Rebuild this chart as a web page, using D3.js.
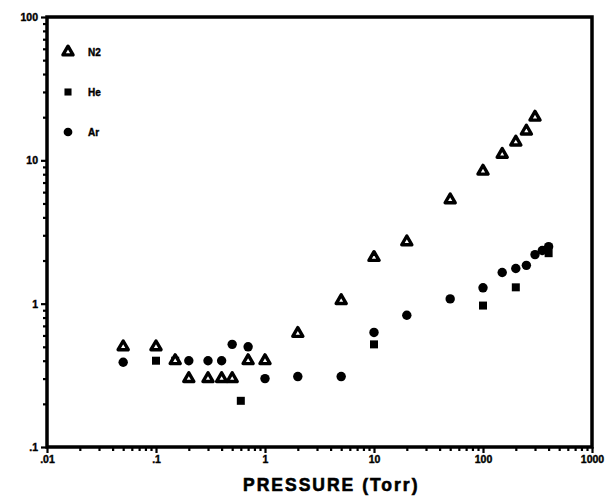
<!DOCTYPE html>
<html>
<head>
<meta charset="utf-8">
<script src="https://cdn.jsdelivr.net/npm/d3@7"></script>
<style>
  body { margin: 0; background: #fff; }
  svg { font-family: "Liberation Sans", Arial, sans-serif; font-weight: bold; }
</style>
</head>
<body>
<script>
// data (pressure in Torr)
var n2P = [0.05, 0.1, 0.15, 0.2, 0.3, 0.4, 0.5, 0.7, 1, 2, 5, 10, 20, 50, 100, 150, 200, 250, 300];
var n2V = [0.5, 0.5, 0.4, 0.3, 0.3, 0.3, 0.3, 0.4, 0.4, 0.62, 1.05, 2.1, 2.7, 5.3, 8.4, 11, 13.4, 16, 20];

var heP = [0.1, 0.15, 0.6, 10, 100, 200, 400];
var heV = [0.4, 0.4, 0.21, 0.52, 0.97, 1.3, 2.25];

var arP = [0.05, 0.2, 0.3, 0.4, 0.5, 0.7, 1, 2, 5, 10, 20, 50, 100, 150, 200, 250, 300, 350, 400];
var arV = [0.39, 0.4, 0.4, 0.4, 0.52, 0.5, 0.3, 0.31, 0.31, 0.63, 0.83, 1.08, 1.29, 1.65, 1.76, 1.85, 2.2, 2.35, 2.5];

var xTicks = [0.01, 0.1, 1, 10, 100, 1000];
var xTickLabels = [".01", ".1", "1", "10", "100", "1000"];
var yTicks = [0.1, 1, 10, 100];
var yTickLabels = [".1", "1", "10", "100"];

var legendNames = ["N2", "He", "Ar"];

var svgWidth = 608;
var svgHeight = 497;
var margin = { top: 17, right: 16, bottom: 50, left: 47 };
var width = svgWidth - margin.left - margin.right;
var height = svgHeight - margin.top - margin.bottom;

var svg = d3.select("body").append("svg")
  .attr("width", svgWidth)
  .attr("height", svgHeight);

var chart = svg.append("g")
  .attr("transform", `translate(${margin.left}, ${margin.top})`);

var x = d3.scaleLog().domain([0.01, 1000]).range([0, width]);
var y = d3.scaleLog().domain([0.1, 100]).range([height, 0]);

// minor ticks 2..9 per decade
function minors(lo, hi) {
  var out = [];
  for (var e = Math.log10(lo); e < Math.log10(hi); e++) {
    for (var k = 2; k <= 9; k++) out.push(k * Math.pow(10, e));
  }
  return out;
}

chart.append("g")
  .attr("transform", `translate(0, ${height})`)
  .call(d3.axisBottom(x).tickValues(minors(0.01, 1000)).tickSize(4).tickFormat(""));
chart.append("g")
  .attr("transform", `translate(0, ${height})`)
  .call(d3.axisBottom(x).tickValues(xTicks).tickSize(6)
    .tickFormat((d, i) => xTickLabels[i]));

chart.append("g")
  .call(d3.axisLeft(y).tickValues(minors(0.1, 100)).tickSize(4).tickFormat(""));
chart.append("g")
  .call(d3.axisLeft(y).tickValues(yTicks).tickSize(6)
    .tickFormat((d, i) => yTickLabels[i]));

chart.selectAll(".domain").remove();
chart.selectAll(".tick line").attr("stroke", "#000").attr("stroke-width", 2.2);
chart.selectAll(".tick text")
  .attr("font-size", 10.5)
  .attr("font-weight", "bold")
  .attr("fill", "#000")
  .attr("stroke", "#000")
  .attr("stroke-width", 0.4)
  .attr("font-family", "Liberation Sans, Arial, sans-serif");

// frame
chart.append("rect")
  .attr("x", 0).attr("y", 0)
  .attr("width", width).attr("height", height)
  .attr("fill", "none")
  .attr("stroke", "#000")
  .attr("stroke-width", 3.5);

var tri = d3.symbol().type(d3.symbolTriangle).size(44);
var sq = d3.symbol().type(d3.symbolSquare).size(64);

// Ar circles
chart.selectAll(".ar")
  .data(arP.map((p, i) => [p, arV[i]]))
  .enter()
  .append("circle")
  .attr("class", "ar")
  .attr("cx", d => x(d[0]))
  .attr("cy", d => y(d[1]))
  .attr("r", 4.7)
  .attr("fill", "#000");

// He squares
chart.selectAll(".he")
  .data(heP.map((p, i) => [p, heV[i]]))
  .enter()
  .append("path")
  .attr("class", "he")
  .attr("d", sq)
  .attr("transform", d => `translate(${x(d[0])}, ${y(d[1])})`)
  .attr("fill", "#000");

// N2 open triangles
chart.selectAll(".n2")
  .data(n2P.map((p, i) => [p, n2V[i]]))
  .enter()
  .append("path")
  .attr("class", "n2")
  .attr("d", tri)
  .attr("transform", d => `translate(${x(d[0])}, ${y(d[1])})`)
  .attr("fill", "#fff")
  .attr("stroke", "#000")
  .attr("stroke-width", 3.4)
  .attr("stroke-linejoin", "round");

// legend
var legend = svg.append("g").attr("transform", "translate(68, 52)");
var legendRows = legend.selectAll("g")
  .data(legendNames)
  .enter()
  .append("g")
  .attr("transform", (d, i) => `translate(0, ${i * 40})`);

legendRows.append("path")
  .attr("d", (d, i) => i === 0 ? tri() : (i === 1 ? sq.size(50)() : d3.symbol().type(d3.symbolCircle).size(60)()))
  .attr("fill", (d, i) => i === 0 ? "#fff" : "#000")
  .attr("stroke", (d, i) => i === 0 ? "#000" : "none")
  .attr("stroke-width", 3.4)
  .attr("stroke-linejoin", "round");

legendRows.append("text")
  .attr("x", 20)
  .attr("y", 4)
  .attr("font-size", 10)
  .attr("fill", "#000")
  .attr("stroke", "#000")
  .attr("stroke-width", 0.4)
  .text(d => d);

// x axis title
svg.append("text")
  .attr("x", 243)
  .attr("y", 491)
  .attr("font-size", 17.5)
  .attr("letter-spacing", 2)
  .attr("fill", "#000")
  .attr("stroke", "#000")
  .attr("stroke-width", 0.6)
  .text("PRESSURE (Torr)");
</script>
</body>
</html>
